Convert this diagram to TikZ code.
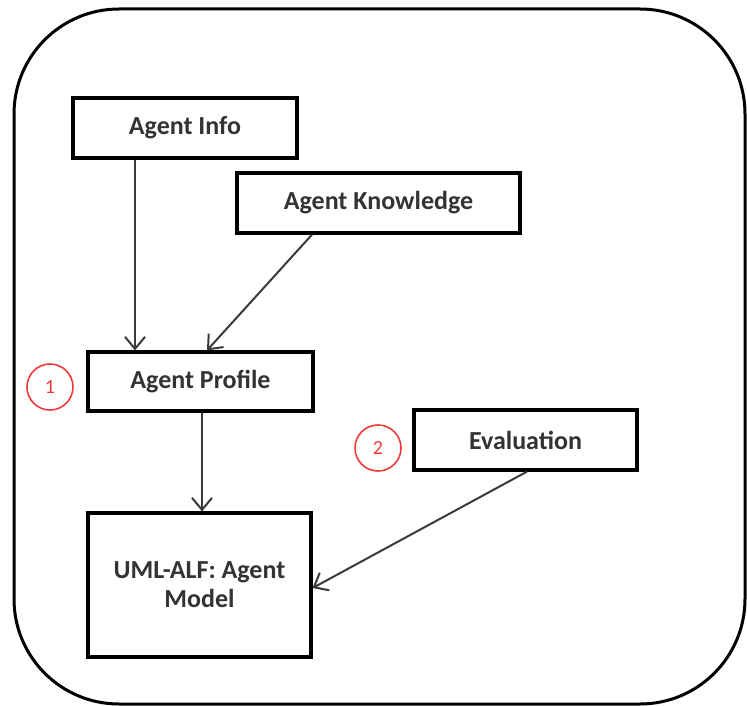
\documentclass[tikz,border=0pt]{standalone}
\usepackage{fontspec}
\setmainfont{Carlito}
\usetikzlibrary{arrows.meta}
\definecolor{edgegray}{HTML}{3A3A3A}
\definecolor{markred}{HTML}{F03A3A}
\begin{document}
\begin{tikzpicture}[x=1pt,y=-1pt,
  block/.style={draw=black, line width=3.2pt, fill=white, align=center,
    inner sep=0pt, font=\fontsize{26}{31}\selectfont\bfseries, text=black!80},
  flow/.style={draw=edgegray, line width=2pt,
    -{Straight Barb[length=12pt,width=20pt,line width=2pt]}},
  marker/.style={circle, draw=markred, line width=1.6pt, minimum size=46pt,
    inner sep=0pt, text=markred, font=\fontsize{20}{22}\selectfont}]
  \useasboundingbox (0,0) rectangle (747,706);
  % outer frame
  \draw[line width=3pt, rounded corners=105pt] (14,9) rectangle (745,704);

  % blocks
  \node[block, minimum width=224pt, minimum height=60pt] (info) at (185,128) {Agent Info};
  \node[block, minimum width=283pt, minimum height=60pt] (know) at (378.5,203) {Agent Knowledge};
  \node[block, minimum width=225pt, minimum height=59pt] (prof) at (200.5,381.5) {Agent Profile};
  \node[block, minimum width=223pt, minimum height=60pt] (eval) at (525.5,440) {Evaluation};
  \node[block, minimum width=223pt, minimum height=144pt] (uml) at (199.5,585)
    {UML-ALF: Agent\\[-2pt]Model};

  % step markers
  \node[marker] (m1) at (50,387) {1};
  \node[marker] (m2) at (378,448) {2};

  % connectors
  \draw[flow] ([xshift=-50pt]info.south) -- ([xshift=-65.5pt]prof.north);
  \draw[flow] ([xshift=-66.5pt]know.south) -- ([xshift=6.5pt]prof.north);
  \draw[flow] ([xshift=1.5pt]prof.south) -- ([xshift=2.5pt]uml.north);
  \draw[flow] ([xshift=1.5pt]eval.south) -- ([yshift=-3pt]uml.east);
\end{tikzpicture}
\end{document}
